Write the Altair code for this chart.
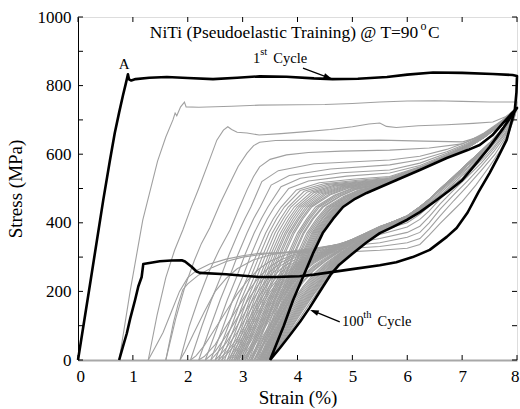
import altair as alt
import pandas as pd

X_TICKS = [0, 1, 2, 3, 4, 5, 6, 7, 8]
Y_TICKS = [0, 100, 200, 300, 400, 500, 600, 700, 800, 900, 1000]

# ---- black cycles (strain %, stress MPa) ----
C001 = [(0,0),(0.23,232),(0.46,466),(0.58,580),(0.67,662),(0.75,722),(0.82,772),(0.87,805),(0.9,826),(0.91,833),(0.93,818),(0.97,815),(1.05,819),(1.3,823),(1.62,825),(2.0,822),(2.46,819),(2.9,823),(3.31,827),(3.8,826),(4.3,821),(4.64,819),(5.1,820),(5.63,825),(6.0,832),(6.47,838),(7.0,837),(7.56,834),(7.92,831),(8.0,828),
        (7.99,780),(7.96,729),(7.81,641),(7.65,590),(7.5,545),(7.3,490),(7.1,430),(6.9,385),(6.72,359),(6.41,321),(6.1,300),(5.8,285),(5.5,276),(5.0,265),(4.65,257),(4.3,249),(4.04,244),(3.6,242),(3.3,242),(2.7,250),(2.22,254),(2.16,258),(2.07,272),(1.95,287),(1.89,291),(1.7,290),(1.49,288),(1.3,283),(1.19,280),(1.16,242),(1.1,215),(1.04,175),(0.95,120),(0.89,78),(0.82,40),(0.75,0)]
C100 = [(3.5,0),(3.75,100),(3.92,175),(4.1,242),(4.28,310),(4.46,370),(4.65,412),(4.83,446),(5.05,470),(5.26,487),(5.68,516),(6.23,554),(6.72,589),(7.1,612),(7.32,627),(7.55,655),(7.74,690),(7.9,718),(8.0,735),
        (7.9,712),(7.75,676),(7.5,621),(7.25,572),(7.0,524),(6.75,492),(6.5,462),(6.23,431),(6.0,409),(5.75,389),(5.5,370),(5.25,342),(5.0,310),(4.75,276),(4.6,248),(4.46,213),(4.35,185),(4.22,152),(4.05,112),(3.85,70),(3.68,35),(3.5,0)]

# ---- gray cycles ----
C02 = [(0.75,0),(0.95,200),(1.18,408),(1.45,580),(1.6,650),(1.73,700),(1.77,720),(1.8,712),(1.87,738),(1.94,752),(1.97,738),(2.2,737),(2.8,740),(3.3,743),(4.0,744),(4.5,745),(5.0,748),(5.5,752),(6.0,755),(6.5,756),(7.0,754),(7.5,752),(8.0,752),
       (7.96,712),(7.85,660),(7.7,612),(7.5,565),(7.25,510),(7.0,462),(6.8,430),(6.6,398),(6.4,364),(6.23,337),(6.0,326),(5.5,320),(5.0,316),(4.5,314),(4.0,313),(3.5,312),(3.31,311),(3.0,304),(2.7,294),(2.4,280),(2.17,262),(2.0,240),(1.85,200),(1.7,140),(1.55,80),(1.4,35),(1.28,0)]
C03 = [(1.28,0),(1.44,130),(1.6,240),(1.76,320),(1.91,379),(2.05,440),(2.2,500),(2.4,585),(2.53,641),(2.65,670),(2.73,680),(2.8,672),(2.9,664),(3.08,662),(3.3,656),(3.7,660),(4.1,665),(4.6,672),(5.0,680),(5.3,688),(5.5,691),(5.62,681),(5.8,678),(6.2,683),(6.72,686),(7.2,690),(7.56,694),(7.8,710),(8.0,735),
       (7.94,700),(7.8,650),(7.6,600),(7.35,553),(7.1,508),(6.85,465),(6.6,420),(6.4,382),(6.23,354),(6.0,342),(5.5,331),(5.0,326),(4.5,321),(4.0,316),(3.5,311),(3.0,300),(2.7,287),(2.45,270),(2.2,248),(2.0,222),(1.91,205),(1.82,160),(1.74,110),(1.67,55),(1.6,0)]
C04 = [(1.6,0),(1.78,120),(1.95,215),(2.12,290),(2.25,340),(2.4,385),(2.6,460),(2.77,516),(2.92,565),(3.08,603),(3.2,625),(3.31,635),(3.6,640),(4.2,641),(4.8,640),(5.5,641),(6.3,638),(7.01,636),(7.3,650),(7.55,672),(7.8,705),(8.0,735),
       (7.93,700),(7.78,652),(7.58,608),(7.35,565),(7.1,522),(6.85,482),(6.6,440),(6.4,400),(6.23,372),(6.0,358),(5.5,342),(5.0,334),(4.5,328),(4.0,320),(3.5,306),(3.2,292),(2.9,266),(2.7,238),(2.5,200),(2.3,140),(2.1,75),(1.95,25),(1.86,0)]
C05 = [(1.86,0),(2.03,100),(2.2,180),(2.38,255),(2.57,320),(2.77,379),(2.93,440),(3.08,496),(3.2,535),(3.31,563),(3.5,585),(3.8,598),(4.2,605),(4.8,609),(5.68,612),(6.4,618),(7.0,630),(7.35,655),(7.6,680),(7.8,708),(8.0,735),
       (7.92,702),(7.78,658),(7.58,616),(7.35,575),(7.1,535),(6.85,496),(6.6,455),(6.4,418),(6.23,390),(6.0,372),(5.5,354),(5.25,347),(5.0,341),(4.75,336),(4.5,331),(4.3,326),(4.1,320),(3.9,312),(3.7,302),(3.5,288),(3.3,266),(3.1,234),(2.9,192),(2.7,142),(2.5,92),(2.3,42),(2.15,12),(2.05,0)]
C06 = [(2.05,0),(2.26,100),(2.43,175),(2.6,242),(2.76,310),(2.92,370),(3.04,412),(3.15,446),(3.35,520),(3.65,552),(4.3,572),(5.68,583),(6.23,594),(6.72,614),(7.1,636),(7.4,662),(7.74,700),(8.0,735),
       (7.92,705),(7.78,662),(7.58,622),(7.35,583),(7.1,545),(6.85,508),(6.6,470),(6.4,435),(6.23,410),(6.0,388),(5.5,366),(5.25,355),(5.0,345),(4.75,337),(4.5,330),(4.3,323),(4.1,315),(3.9,305),(3.7,292),(3.5,272),(3.3,242),(3.1,200),(2.9,150),(2.7,98),(2.5,45),(2.3,10),(2.2,0)]
C07 = [(2.2,0),(2.42,100),(2.59,175),(2.76,242),(2.92,310),(3.08,370),(3.2,412),(3.32,446),(3.52,510),(3.85,538),(4.6,557),(5.68,569),(6.23,584),(6.72,607),(7.1,632),(7.4,660),(7.74,698),(8.0,735),
       (7.91,706),(7.76,664),(7.56,626),(7.33,588),(7.1,553),(6.85,516),(6.6,480),(6.4,448),(6.23,425),(6.0,400),(5.5,376),(5.25,362),(5.0,348),(4.75,338),(4.5,329),(4.3,320),(4.1,311),(3.9,300),(3.7,284),(3.5,258),(3.3,222),(3.1,176),(2.9,122),(2.7,70),(2.5,25),(2.32,0)]
C08 = [(2.32,0),(2.55,100),(2.72,175),(2.89,242),(3.05,310),(3.21,370),(3.34,412),(3.46,446),(3.7,505),(4.05,530),(4.8,546),(5.68,554),(6.23,574),(6.72,603),(7.1,629),(7.4,658),(7.74,696),(8.0,735),
       (7.91,707),(7.75,666),(7.55,628),(7.32,592),(7.1,558),(6.85,522),(6.6,486),(6.4,455),(6.23,433),(6.0,406),(5.5,382),(5.25,366),(5.0,350),(4.75,338),(4.5,327),(4.3,317),(4.1,307),(3.9,295),(3.7,276),(3.5,246),(3.3,204),(3.1,154),(2.9,100),(2.7,50),(2.5,14),(2.42,0)]
C09 = [(2.42,0),(2.65,100),(2.82,175),(3.0,242),(3.16,310),(3.32,370),(3.45,412),(3.58,446),(3.84,500),(4.2,522),(4.9,536),(5.68,545),(6.23,567),(6.72,599),(7.1,627),(7.4,657),(7.74,695),(8.0,735),
       (7.9,708),(7.74,668),(7.54,630),(7.31,595),(7.1,562),(6.85,527),(6.6,491),(6.4,460),(6.23,440),(6.0,412),(5.5,386),(5.25,368),(5.0,351),(4.75,337),(4.5,324),(4.3,313),(4.1,302),(3.9,288),(3.7,266),(3.5,232),(3.3,186),(3.1,134),(2.9,80),(2.7,35),(2.55,8),(2.5,0)]
C10 = [(2.5,0),(2.74,100),(2.91,175),(3.09,242),(3.26,310),(3.42,370),(3.56,412),(3.7,446),(3.98,496),(4.4,517),(5.0,527),(5.68,535),(6.23,563),(6.72,597),(7.1,626),(7.4,656),(7.74,694),(8.0,735),
       (7.9,710),(7.74,670),(7.53,633),(7.3,598),(7.08,566),(6.85,532),(6.6,497),(6.4,468),(6.23,446),(6.0,420),(5.75,403),(5.5,389),(5.25,370),(5.0,352),(4.75,336),(4.5,321),(4.3,309),(4.1,297),(3.9,281),(3.7,256),(3.5,218),(3.3,170),(3.1,116),(2.9,62),(2.7,22),(2.56,0)]
C11 = [(2.56,0),(2.8,100),(2.97,175),(3.15,242),(3.32,310),(3.48,370),(3.62,412),(3.76,446),(4.05,494),(4.48,514),(5.1,524),(5.68,532),(6.23,561),(6.72,596),(7.1,625),(7.4,655),(7.74,694),(8.0,735),
       (7.9,710),(7.74,670),(7.53,633),(7.3,598),(7.08,566),(6.85,532),(6.6,497),(6.4,468),(6.23,446),(6.0,420),(5.75,403),(5.5,389),(5.25,370),(5.0,352),(4.75,335),(4.5,319),(4.3,306),(4.1,293),(3.9,275),(3.7,248),(3.5,208),(3.3,158),(3.1,104),(2.9,52),(2.7,14),(2.62,0)]
C12 = [(2.62,0),(2.86,100),(3.03,175),(3.21,242),(3.38,310),(3.54,370),(3.69,412),(3.83,446),(4.12,492),(4.55,512),(5.15,522),(5.68,530),(6.23,560),(6.72,595),(7.1,624),(7.4,654),(7.74,693),(8.0,735),
       (7.9,710),(7.74,670),(7.53,633),(7.3,598),(7.08,566),(6.85,532),(6.6,497),(6.4,468),(6.23,447),(6.0,421),(5.75,404),(5.5,389),(5.25,370),(5.0,351),(4.75,334),(4.5,317),(4.3,304),(4.1,290),(3.9,270),(3.7,240),(3.5,198),(3.3,146),(3.1,92),(2.9,42),(2.78,12),(2.72,0)]
C13 = [(2.67,0),(2.91,100),(3.08,175),(3.26,242),(3.43,310),(3.59,370),(3.74,412),(3.88,446),(4.18,490),(4.6,510),(5.18,520),(5.68,528),(6.23,559),(6.72,594),(7.1,623),(7.4,653),(7.74,692),(8.0,735),
       (7.9,710),(7.74,670),(7.53,633),(7.3,598),(7.08,566),(6.85,532),(6.6,497),(6.4,468),(6.23,446),(6.0,420),(5.75,404),(5.5,388),(5.25,369),(5.0,350),(4.75,333),(4.5,315),(4.3,302),(4.1,287),(3.9,266),(3.7,234),(3.5,190),(3.3,136),(3.1,82),(2.92,36),(2.76,0)]
C14 = [(2.72,0),(2.96,100),(3.13,175),(3.31,242),(3.48,310),(3.64,370),(3.79,412),(3.94,446),(4.25,489),(4.66,509),(5.2,519),(5.68,527),(6.23,559),(6.72,594),(7.1,623),(7.4,653),(7.74,692),(8.0,735),
       (7.9,710),(7.74,670),(7.53,633),(7.3,598),(7.08,566),(6.85,532),(6.6,497),(6.4,468),(6.23,446),(6.0,420),(5.75,404),(5.5,388),(5.25,369),(5.0,350),(4.75,332),(4.5,314),(4.3,300),(4.1,284),(3.9,261),(3.7,228),(3.5,182),(3.3,127),(3.1,72),(2.95,34),(2.8,0)]
C15 = [(2.76,0),(3.0,100),(3.17,175),(3.35,242),(3.52,310),(3.69,370),(3.84,412),(3.99,446),(4.3,488),(4.7,508),(5.22,518),(5.68,526),(6.23,558),(6.72,593),(7.1,622),(7.4,652),(7.74,692),(8.0,735),
       (7.9,710),(7.74,670),(7.53,633),(7.3,598),(7.08,566),(6.85,532),(6.6,497),(6.4,468),(6.23,446),(6.0,420),(5.75,404),(5.5,387),(5.25,368),(5.0,349),(4.75,331),(4.5,312),(4.3,298),(4.1,281),(3.9,256),(3.7,222),(3.5,174),(3.3,118),(3.1,64),(2.96,28),(2.84,0)]
C16 = [(2.8,0),(3.04,100),(3.21,175),(3.39,242),(3.56,310),(3.73,370),(3.88,412),(4.03,446),(4.35,487),(4.75,507),(5.25,517),(5.68,525),(6.23,558),(6.72,593),(7.1,622),(7.4,652),(7.74,692),(8.0,735),
       (7.9,710),(7.74,670),(7.53,633),(7.3,598),(7.08,566),(6.85,532),(6.6,497),(6.4,468),(6.23,446),(6.0,420),(5.75,404),(5.5,387),(5.25,368),(5.0,349),(4.75,330),(4.5,311),(4.3,296),(4.1,278),(3.9,252),(3.7,216),(3.5,166),(3.3,110),(3.1,56),(2.95,18),(2.87,0)]
C17 = [(2.84,0),(3.08,100),(3.25,175),(3.43,242),(3.6,310),(3.77,370),(3.92,412),(4.07,446),(4.4,486),(4.79,506),(5.28,516),(5.68,524),(6.23,557),(6.72,592),(7.1,621),(7.4,651),(7.74,691),(8.0,735),
       (7.9,710),(7.74,670),(7.53,633),(7.3,598),(7.08,566),(6.85,532),(6.6,497),(6.4,468),(6.23,445),(6.0,420),(5.75,403),(5.5,386),(5.25,367),(5.0,348),(4.75,329),(4.5,309),(4.3,294),(4.1,275),(3.9,248),(3.7,210),(3.5,158),(3.3,102),(3.1,49),(2.9,0)]
C18 = [(2.87,0),(3.11,100),(3.28,175),(3.46,242),(3.63,310),(3.8,370),(3.96,412),(4.11,446),(4.44,485),(4.82,505),(5.3,515),(5.68,524),(6.23,557),(6.72,592),(7.1,621),(7.4,651),(7.74,691),(8.0,735),
       (7.9,710),(7.74,670),(7.53,633),(7.3,598),(7.08,566),(6.85,532),(6.6,497),(6.4,468),(6.23,445),(6.0,420),(5.75,403),(5.5,386),(5.25,367),(5.0,348),(4.75,328),(4.5,308),(4.3,292),(4.1,272),(3.9,243),(3.7,203),(3.5,150),(3.3,94),(3.1,42),(2.93,0)]
C19 = [(2.9,0),(3.14,100),(3.31,175),(3.49,242),(3.67,310),(3.84,370),(4.0,412),(4.15,446),(4.48,484),(4.85,504),(5.32,515),(5.68,523),(6.23,557),(6.72,592),(7.1,621),(7.4,651),(7.74,691),(8.0,735),
       (7.9,710),(7.74,670),(7.53,633),(7.3,598),(7.08,566),(6.85,532),(6.6,497),(6.4,468),(6.23,445),(6.0,420),(5.75,402),(5.5,385),(5.25,366),(5.0,347),(4.75,327),(4.5,306),(4.3,290),(4.1,268),(3.9,238),(3.7,196),(3.5,143),(3.3,87),(3.12,36),(2.97,0)]
C20 = [(2.93,0),(3.17,100),(3.34,175),(3.52,242),(3.7,310),(3.87,370),(4.03,412),(4.19,446),(4.52,483),(4.88,503),(5.35,514),(5.68,523),(6.23,557),(6.72,592),(7.1,621),(7.4,651),(7.74,691),(8.0,735),
       (7.9,710),(7.74,670),(7.53,633),(7.3,598),(7.08,566),(6.85,532),(6.6,497),(6.4,468),(6.23,445),(6.0,420),(5.75,402),(5.5,385),(5.25,366),(5.0,347),(4.75,326),(4.5,305),(4.3,288),(4.1,265),(3.9,233),(3.7,190),(3.5,136),(3.3,80),(3.12,28),(3.0,0)]
C21 = [(2.97,0),(3.21,100),(3.38,175),(3.56,242),(3.74,310),(3.91,370),(4.07,412),(4.23,446),(4.56,482),(4.9,502),(5.36,513),(5.68,522),(6.23,557),(6.72,592),(7.1,621),(7.4,651),(7.74,691),(8.0,735),
       (7.9,711),(7.74,672),(7.52,635),(7.3,600),(7.08,568),(6.85,534),(6.6,498),(6.4,467),(6.23,444),(6.0,419),(5.75,401),(5.5,384),(5.25,365),(5.0,346),(4.75,324),(4.5,303),(4.3,285),(4.1,260),(3.9,227),(3.7,182),(3.5,128),(3.3,72),(3.14,28),(3.02,0)]
C23 = [(3.0,0),(3.24,100),(3.41,175),(3.59,242),(3.77,310),(3.94,370),(4.1,412),(4.26,446),(4.6,482),(4.93,501),(5.38,512),(5.68,522),(6.23,557),(6.72,592),(7.1,621),(7.4,651),(7.74,691),(8.0,735),
       (7.9,712),(7.74,673),(7.52,636),(7.3,602),(7.08,570),(6.85,535),(6.6,499),(6.4,466),(6.23,444),(6.0,419),(5.75,401),(5.5,384),(5.25,365),(5.0,345),(4.75,323),(4.5,301),(4.3,282),(4.1,256),(3.9,221),(3.7,175),(3.5,120),(3.3,65),(3.15,25),(3.05,0)]
C26 = [(3.05,0),(3.3,100),(3.47,175),(3.65,242),(3.83,310),(4.0,370),(4.17,412),(4.33,446),(4.67,480),(4.98,500),(5.4,511),(5.68,522),(6.23,557),(6.72,592),(7.1,621),(7.4,651),(7.74,691),(8.0,735),
       (7.9,712),(7.74,673),(7.52,636),(7.3,602),(7.08,570),(6.85,535),(6.6,499),(6.4,466),(6.23,443),(6.0,418),(5.75,400),(5.5,383),(5.25,364),(5.0,343),(4.75,320),(4.5,297),(4.3,276),(4.1,247),(3.9,209),(3.7,160),(3.5,105),(3.3,52),(3.18,18),(3.11,0)]
C28 = [(3.08,0),(3.33,100),(3.5,175),(3.68,242),(3.86,310),(4.03,370),(4.2,412),(4.37,446),(4.7,480),(5.0,499),(5.41,510),(5.68,521),(6.23,557),(6.72,592),(7.1,621),(7.4,651),(7.74,691),(8.0,735),
       (7.9,712),(7.74,673),(7.52,636),(7.3,602),(7.08,570),(6.85,535),(6.6,499),(6.4,466),(6.23,443),(6.0,418),(5.75,400),(5.5,382),(5.25,363),(5.0,342),(4.75,318),(4.5,294),(4.3,272),(4.1,242),(3.9,202),(3.7,152),(3.5,98),(3.3,46),(3.14,0)]
C30 = [(3.11,0),(3.36,100),(3.53,175),(3.71,242),(3.89,310),(4.06,370),(4.23,412),(4.4,446),(4.73,479),(5.02,498),(5.42,510),(5.68,521),(6.23,557),(6.72,592),(7.1,621),(7.4,651),(7.74,691),(8.0,735),
       (7.9,712),(7.74,673),(7.52,636),(7.3,602),(7.08,570),(6.85,535),(6.6,499),(6.4,466),(6.23,442),(6.0,418),(5.75,400),(5.5,382),(5.25,363),(5.0,341),(4.75,317),(4.5,292),(4.3,269),(4.1,237),(3.9,196),(3.7,145),(3.5,90),(3.3,40),(3.17,0)]
C33 = [(3.15,0),(3.4,100),(3.57,175),(3.75,242),(3.93,310),(4.1,370),(4.27,412),(4.45,446),(4.77,478),(5.05,497),(5.43,509),(5.68,521),(6.23,556),(6.72,591),(7.1,620),(7.4,650),(7.74,690),(8.0,735),
       (7.9,712),(7.74,673),(7.52,636),(7.3,602),(7.08,570),(6.85,535),(6.6,499),(6.4,466),(6.23,441),(6.0,417),(5.75,399),(5.5,381),(5.25,362),(5.0,340),(4.75,315),(4.5,289),(4.3,264),(4.1,230),(3.9,188),(3.7,136),(3.5,82),(3.32,34),(3.2,0)]
C35 = [(3.17,0),(3.42,100),(3.59,175),(3.77,242),(3.95,310),(4.12,370),(4.29,412),(4.47,446),(4.79,478),(5.06,497),(5.44,509),(5.68,521),(6.23,556),(6.72,591),(7.1,620),(7.4,650),(7.74,690),(8.0,735),
       (7.9,712),(7.74,673),(7.52,636),(7.3,602),(7.08,570),(6.85,535),(6.6,499),(6.4,466),(6.23,441),(6.0,417),(5.75,399),(5.5,381),(5.25,362),(5.0,339),(4.75,314),(4.5,287),(4.3,261),(4.1,226),(3.9,182),(3.7,130),(3.5,76),(3.32,28),(3.22,0)]
C40 = [(3.22,0),(3.47,100),(3.64,175),(3.82,242),(4.0,310),(4.17,370),(4.35,412),(4.53,446),(4.84,477),(5.1,495),(5.46,508),(5.68,520),(6.23,556),(6.72,591),(7.1,620),(7.4,650),(7.74,690),(8.0,735),
       (7.9,712),(7.74,673),(7.52,636),(7.3,602),(7.08,570),(6.85,535),(6.6,499),(6.4,466),(6.23,440),(6.0,416),(5.75,398),(5.5,380),(5.25,360),(5.0,336),(4.75,310),(4.5,281),(4.3,252),(4.1,214),(3.9,168),(3.7,116),(3.5,64),(3.35,22),(3.27,0)]
C43 = [(3.25,0),(3.5,100),(3.67,175),(3.85,242),(4.03,310),(4.2,370),(4.38,412),(4.56,446),(4.86,476),(5.12,494),(5.47,507),(5.68,520),(6.23,556),(6.72,591),(7.1,620),(7.4,650),(7.74,690),(8.0,735),
       (7.9,713),(7.75,678),(7.5,624),(7.25,576),(7.0,528),(6.75,496),(6.5,466),(6.23,439),(6.0,417),(5.75,398),(5.5,380),(5.25,359),(5.0,334),(4.75,308),(4.5,278),(4.3,247),(4.1,208),(3.9,162),(3.7,108),(3.5,58),(3.37,20),(3.29,0)]
C46 = [(3.27,0),(3.52,100),(3.69,175),(3.87,242),(4.05,310),(4.23,370),(4.41,412),(4.59,446),(4.88,476),(5.13,494),(5.48,507),(5.68,520),(6.23,556),(6.72,591),(7.1,620),(7.4,650),(7.74,690),(8.0,735),
       (7.9,713),(7.75,678),(7.5,624),(7.25,576),(7.0,528),(6.75,496),(6.5,466),(6.23,439),(6.0,417),(5.75,398),(5.5,379),(5.25,358),(5.0,333),(4.75,306),(4.5,274),(4.3,242),(4.1,202),(3.9,155),(3.7,102),(3.5,52),(3.38,18),(3.32,0)]
C50 = [(3.3,0),(3.55,100),(3.72,175),(3.9,242),(4.08,310),(4.26,370),(4.44,412),(4.62,446),(4.9,475),(5.15,493),(5.49,508),(5.68,519),(6.23,556),(6.72,591),(7.1,620),(7.4,650),(7.74,690),(8.0,735),
       (7.9,713),(7.75,678),(7.5,624),(7.25,576),(7.0,528),(6.75,496),(6.5,466),(6.23,438),(6.0,416),(5.75,397),(5.5,378),(5.25,357),(5.0,331),(4.75,304),(4.5,270),(4.3,237),(4.1,196),(3.9,148),(3.7,96),(3.5,46),(3.34,0)]
C53 = [(3.32,0),(3.57,100),(3.74,175),(3.92,242),(4.1,310),(4.28,370),(4.46,412),(4.64,446),(4.92,475),(5.16,493),(5.5,508),(5.68,519),(6.23,556),(6.72,591),(7.1,620),(7.4,650),(7.74,690),(8.0,735),
       (7.9,713),(7.75,678),(7.5,624),(7.25,576),(7.0,528),(6.75,496),(6.5,466),(6.23,438),(6.0,416),(5.75,397),(5.5,378),(5.25,356),(5.0,330),(4.75,302),(4.5,267),(4.3,232),(4.1,190),(3.9,142),(3.7,90),(3.5,40),(3.36,0)]
C56 = [(3.34,0),(3.59,100),(3.76,175),(3.94,242),(4.12,310),(4.3,370),(4.49,412),(4.67,446),(4.94,474),(5.17,492),(5.51,508),(5.68,519),(6.23,556),(6.72,591),(7.1,620),(7.4,650),(7.74,690),(8.0,735),
       (7.9,713),(7.75,678),(7.5,624),(7.25,576),(7.0,528),(6.75,496),(6.5,466),(6.23,437),(6.0,415),(5.75,396),(5.5,377),(5.25,355),(5.0,328),(4.75,300),(4.5,264),(4.3,227),(4.1,185),(3.9,136),(3.7,84),(3.52,35),(3.38,0)]
C60 = [(3.36,0),(3.61,100),(3.78,175),(3.96,242),(4.14,310),(4.32,370),(4.51,412),(4.69,446),(4.95,474),(5.18,492),(5.52,508),(5.68,519),(6.23,556),(6.72,591),(7.1,620),(7.4,650),(7.74,690),(8.0,735),
       (7.9,713),(7.75,678),(7.5,624),(7.25,576),(7.0,528),(6.75,496),(6.5,466),(6.23,437),(6.0,415),(5.75,396),(5.5,377),(5.25,354),(5.0,327),(4.75,298),(4.5,260),(4.3,222),(4.1,180),(3.9,130),(3.7,78),(3.52,30),(3.4,0)]
C64 = [(3.38,0),(3.63,100),(3.8,175),(3.98,242),(4.16,310),(4.34,370),(4.53,412),(4.71,446),(4.97,473),(5.19,491),(5.52,508),(5.68,518),(6.23,555),(6.72,590),(7.1,619),(7.4,649),(7.74,690),(8.0,735),
       (7.9,713),(7.75,678),(7.5,624),(7.25,576),(7.0,528),(6.75,496),(6.5,466),(6.23,437),(6.0,415),(5.75,395),(5.5,376),(5.25,353),(5.0,325),(4.75,296),(4.5,256),(4.3,217),(4.1,175),(3.9,125),(3.7,73),(3.52,28),(3.42,0)]
C68 = [(3.4,0),(3.65,100),(3.82,175),(4.0,242),(4.18,310),(4.36,370),(4.55,412),(4.73,446),(4.98,473),(5.2,491),(5.53,508),(5.68,518),(6.23,555),(6.72,590),(7.1,619),(7.4,649),(7.74,690),(8.0,735),
       (7.9,713),(7.75,678),(7.5,624),(7.25,576),(7.0,528),(6.75,496),(6.5,466),(6.23,437),(6.0,415),(5.75,395),(5.5,376),(5.25,352),(5.0,324),(4.75,294),(4.5,252),(4.3,212),(4.1,170),(3.9,120),(3.7,68),(3.53,25),(3.43,0)]
C72 = [(3.42,0),(3.67,100),(3.84,175),(4.02,242),(4.2,310),(4.38,370),(4.57,412),(4.75,446),(4.99,472),(5.21,490),(5.54,509),(5.68,518),(6.23,555),(6.72,590),(7.1,619),(7.4,649),(7.74,690),(8.0,735),
       (7.9,714),(7.75,679),(7.5,625),(7.25,577),(7.0,529),(6.75,497),(6.5,467),(6.23,436),(6.0,414),(5.75,394),(5.5,375),(5.25,351),(5.0,322),(4.75,292),(4.5,248),(4.3,208),(4.1,165),(3.9,115),(3.7,64),(3.54,24),(3.45,0)]
C76 = [(3.43,0),(3.68,100),(3.85,175),(4.03,242),(4.21,310),(4.39,370),(4.58,412),(4.76,446),(5.0,472),(5.22,490),(5.54,509),(5.68,518),(6.23,555),(6.72,590),(7.1,619),(7.4,649),(7.74,690),(8.0,735),
       (7.9,714),(7.75,679),(7.5,625),(7.25,577),(7.0,529),(6.75,497),(6.5,467),(6.23,436),(6.0,414),(5.75,394),(5.5,375),(5.25,350),(5.0,321),(4.75,290),(4.5,245),(4.3,204),(4.1,160),(3.9,110),(3.7,60),(3.55,24),(3.46,0)]
C80 = [(3.45,0),(3.7,100),(3.87,175),(4.05,242),(4.23,310),(4.41,370),(4.6,412),(4.78,446),(5.01,472),(5.23,489),(5.55,509),(5.68,517),(6.23,555),(6.72,590),(7.1,619),(7.4,649),(7.74,690),(8.0,735),
       (7.9,714),(7.75,679),(7.5,625),(7.25,577),(7.0,529),(6.75,497),(6.5,467),(6.23,435),(6.0,413),(5.75,393),(5.5,374),(5.25,349),(5.0,319),(4.75,288),(4.5,242),(4.3,200),(4.1,155),(3.9,105),(3.7,56),(3.56,20),(3.47,0)]
C84 = [(3.46,0),(3.71,100),(3.88,175),(4.06,242),(4.24,310),(4.42,370),(4.61,412),(4.79,446),(5.02,472),(5.24,489),(5.55,509),(5.68,517),(6.23,555),(6.72,590),(7.1,619),(7.4,649),(7.74,690),(8.0,735),
       (7.9,714),(7.75,679),(7.5,625),(7.25,577),(7.0,529),(6.75,497),(6.5,467),(6.23,435),(6.0,413),(5.75,393),(5.5,374),(5.25,348),(5.0,318),(4.75,286),(4.5,238),(4.3,195),(4.1,150),(3.9,100),(3.7,52),(3.56,18),(3.48,0)]
C88 = [(3.47,0),(3.72,100),(3.89,175),(4.07,242),(4.25,310),(4.43,370),(4.62,412),(4.8,446),(5.03,471),(5.25,488),(5.56,509),(5.68,517),(6.23,555),(6.72,590),(7.1,619),(7.4,649),(7.74,690),(8.0,735),
       (7.9,713),(7.75,678),(7.5,624),(7.25,576),(7.0,528),(6.75,496),(6.5,466),(6.23,434),(6.0,412),(5.75,392),(5.5,373),(5.25,347),(5.0,317),(4.75,284),(4.5,234),(4.3,192),(4.1,145),(3.9,96),(3.72,52),(3.58,18),(3.49,0)]
C92 = [(3.48,0),(3.73,100),(3.9,175),(4.08,242),(4.26,310),(4.44,370),(4.63,412),(4.81,446),(5.04,471),(5.25,488),(5.56,509),(5.68,517),(6.23,555),(6.72,590),(7.1,619),(7.4,649),(7.74,690),(8.0,735),
       (7.9,713),(7.75,678),(7.5,623),(7.25,575),(7.0,527),(6.75,495),(6.5,465),(6.23,434),(6.0,412),(5.75,392),(5.5,373),(5.25,346),(5.0,315),(4.75,282),(4.5,230),(4.35,195),(4.2,160),(4.0,112),(3.8,68),(3.64,34),(3.5,0)]

GRAY_CYCLES = [("2", C02), ("3", C03), ("4", C04), ("5", C05), ("6", C06), ("7", C07), ("8", C08),
               ("9", C09), ("10", C10), ("11", C11), ("12", C12), ("13", C13), ("14", C14), ("15", C15),
               ("16", C16), ("17", C17), ("18", C18), ("19", C19), ("20", C20), ("21", C21), ("23", C23),
               ("26", C26), ("28", C28), ("30", C30), ("33", C33), ("35", C35), ("40", C40), ("43", C43),
               ("46", C46), ("50", C50), ("53", C53), ("56", C56), ("60", C60), ("64", C64), ("68", C68),
               ("72", C72), ("76", C76), ("80", C80), ("84", C84), ("88", C88), ("92", C92)]
BLACK_CYCLES = [("1", C001), ("100", C100)]


def to_frame(cycles):
    rows = []
    for name, pts in cycles:
        for i, (sx, sy) in enumerate(pts):
            rows.append({"cycle": name, "i": i, "strain": sx, "stress": sy})
    return pd.DataFrame(rows)


gray_df = to_frame(GRAY_CYCLES)
black_df = to_frame(BLACK_CYCLES)

FONT = "Liberation Serif, Times New Roman, Times, DejaVu Serif, serif"
W, H = 439, 343

xscale = alt.Scale(domain=[0, 8], nice=False, zero=False)
yscale = alt.Scale(domain=[0, 1000], nice=False)

x_enc = alt.X("strain:Q", scale=xscale, axis=alt.Axis(
    values=X_TICKS, format="d", title="Strain (%)", ticks=False, tickSize=0, grid=False,
    domainColor="#a8a8a8", domainWidth=2, labelFont=FONT, labelFontSize=17, labelColor="black",
    labelPadding=8, labelFlush=True, labelFlushOffset=2,
    titleFont=FONT, titleFontSize=19, titleFontWeight="normal", titleColor="black",
    titleBaseline="alphabetic", titleY=43))
y_enc = alt.Y("stress:Q", scale=yscale, axis=alt.Axis(
    values=Y_TICKS, format="d", title="Stress (MPa)", ticks=False, tickSize=0, grid=False,
    domainColor="black", domainWidth=1, labelFont=FONT, labelFontSize=17, labelColor="black",
    labelPadding=7, labelFlush=False,
    titleFont=FONT, titleFontSize=19, titleFontWeight="normal", titleColor="black",
    titleX=-53, titleY=171.5, titleBaseline="bottom", titleAlign="center", titleAngle=270))

gray = alt.Chart(gray_df).mark_line(color="#a0a0a0", strokeWidth=1.1).encode(
    x=x_enc, y=y_enc, detail="cycle:N", order="i:Q")
black = alt.Chart(black_df).mark_line(color="black", strokeWidth=2.6, strokeJoin="round").encode(
    x="strain:Q", y="stress:Q", detail="cycle:N", order="i:Q")

xt = pd.DataFrame({"v": X_TICKS})
yt = pd.DataFrame({"v": Y_TICKS})
tick_b = alt.Chart(xt).mark_rule(color="black", strokeWidth=1).encode(
    x="v:Q", y=alt.value(H), y2=alt.value(H - 5))
tick_t = alt.Chart(xt).mark_rule(color="black", strokeWidth=1).encode(
    x="v:Q", y=alt.value(0), y2=alt.value(5))
tick_l = alt.Chart(yt).mark_rule(color="black", strokeWidth=1).encode(
    y="v:Q", x=alt.value(0), x2=alt.value(5))
tick_r = alt.Chart(yt).mark_rule(color="black", strokeWidth=1).encode(
    y="v:Q", x=alt.value(W), x2=alt.value(W - 5))

one = pd.DataFrame({"k": [0]})


def label(text, x, y, size, align="left"):
    return alt.Chart(one).mark_text(text=text, font=FONT, fontSize=size, align=align,
                                    baseline="alphabetic", color="black").encode(
        x=alt.datum(x), y=alt.datum(y))


ann = [
    label("NiTi (Pseudoelastic Training) @ T=90", 6.2, 939, 17.4, "right"),
    label("o", 6.24, 963, 12),
    label("C", 6.38, 939, 17.4),
    label("A", 0.84, 848, 15, "center"),
    label("1", 3.19, 866, 14.5),
    label("st", 3.32, 889, 10.5),
    label("Cycle", 3.56, 866, 14.5),
    label("100", 4.81, 99, 14.5),
    label("th", 5.2, 122, 10.5),
    label("Cycle", 5.46, 99, 14.5),
]

arrow1 = alt.Chart(one).mark_rule(color="black", strokeWidth=1.2).encode(
    x=alt.datum(4.1), y=alt.datum(851), x2=alt.datum(4.6), y2=alt.datum(821))
arrow2 = alt.Chart(one).mark_rule(color="black", strokeWidth=1.2).encode(
    x=alt.datum(4.77), y=alt.datum(111), x2=alt.datum(4.27), y2=alt.datum(144))
HEAD = "M0,0L-0.32,1L0.32,1Z"
head1 = alt.Chart(one).mark_point(shape=HEAD, filled=True, color="black", size=300, angle=112,
                                  opacity=1).encode(x=alt.datum(4.63), y=alt.datum(819))
head2 = alt.Chart(one).mark_point(shape=HEAD, filled=True, color="black", size=300, angle=292,
                                  opacity=1).encode(x=alt.datum(4.23), y=alt.datum(146))

chart = alt.layer(gray, black, tick_b, tick_t, tick_l, tick_r, arrow1, arrow2, head1, head2, *ann).properties(
    width=W, height=H,
    autosize=alt.AutoSizeParams(type="none"),
    padding={"left": 78, "top": 17, "right": 3, "bottom": 49},
).configure_view(stroke="black", strokeWidth=1).configure(background="white")

chart.save("out.html", embed_options={"renderer": "svg", "actions": False})
